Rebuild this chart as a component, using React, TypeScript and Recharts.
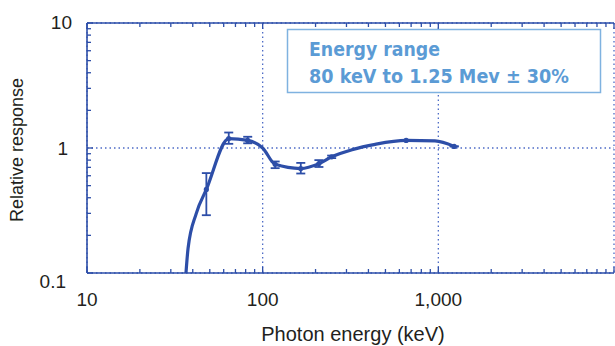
import React from 'react';
import { ComposedChart, Line, Scatter, ErrorBar, XAxis, YAxis, CartesianGrid } from 'recharts';

// smooth response curve
const curveEnergy = [36.6, 37.6, 41.9, 47.8, 64.1, 82.2, 100, 117.8, 164.8, 209, 247, 323, 437, 656, 957, 1231];
const curveResponse = [0.1, 0.157, 0.3, 0.466, 1.19, 1.15, 1.0, 0.74, 0.685, 0.75, 0.85, 0.97, 1.07, 1.15, 1.14, 1.03];

// measured points with error bars
const pointEnergy = [47.8, 64.1, 82.2, 117.8, 164.8, 209, 247, 656, 1231];
const pointResponse = [0.466, 1.19, 1.15, 0.74, 0.685, 0.75, 0.85, 1.15, 1.03];
const errLow = [0.176, 0.11, 0.06, 0.05, 0.06, 0.045, 0.02, 0, 0];
const errHigh = [0.164, 0.14, 0.08, 0.04, 0.075, 0.05, 0.02, 0, 0];

const xMajor = [10, 100, 1000, 10000];
const xMinor = [20, 30, 40, 50, 60, 70, 80, 90, 200, 300, 400, 500, 600, 700, 800, 900, 2000, 3000, 4000, 5000, 6000, 7000, 8000, 9000];
const yMajor = [0.1, 1, 10];
const yMinor = [0.2, 0.3, 0.4, 0.5, 0.6, 0.7, 0.8, 0.9, 2, 3, 4, 5, 6, 7, 8, 9];
const xLabels: Record<number, string> = { 10: '10', 100: '100', 1000: '1,000' };
const yLabels: Record<number, string> = { 0.1: '0.1', 1: '1', 10: '10' };

const curveData = curveEnergy.map((x, i) => ({ x, y: curveResponse[i] }));
const pointData = pointEnergy.map((x, i) => ({ x, y: pointResponse[i], err: [errLow[i], errHigh[i]] }));

const BLUE = '#2d4ea8';
const GRID = '#4d6bc6';
const TEXT = '#231f20';
const FONT = '"Liberation Sans", Arial, sans-serif';

const xTicks = [...xMajor, ...xMinor].sort((a, b) => a - b);
const yTicks = [...yMajor, ...yMinor].sort((a, b) => a - b);

const BottomTick = (props: any) => {
    const { x, y, payload } = props;
    const major = xMajor.includes(payload.value);
    const label = xLabels[payload.value];
    return (
        <g>
            <line x1={x} y1={y} x2={x} y2={y - (major ? 6 : 4)} stroke={BLUE} strokeWidth={1.3} />
            {label && (
                <text x={x} y={y + 33} textAnchor="middle" fontSize={19} fontFamily={FONT} fill={TEXT}>{label}</text>
            )}
        </g>
    );
};

const TopTick = (props: any) => {
    const { x, y, payload } = props;
    const major = xMajor.includes(payload.value);
    return <line x1={x} y1={y} x2={x} y2={y + (major ? 6 : 4)} stroke={BLUE} strokeWidth={1.3} />;
};

const yLabelPos: Record<number, [number, number]> = { 10: [72, 5.5], 1: [68, 7], 0.1: [66, 15] };

const LeftTick = (props: any) => {
    const { x, y, payload } = props;
    const major = yMajor.includes(payload.value);
    const label = yLabels[payload.value];
    const pos = yLabelPos[payload.value];
    return (
        <g>
            <line x1={x} y1={y} x2={x + (major ? 6 : 4)} y2={y} stroke={BLUE} strokeWidth={1.3} />
            {label && (
                <text x={pos[0]} y={y + pos[1]} textAnchor="end" fontSize={19} fontFamily={FONT} fill={TEXT}>{label}</text>
            )}
        </g>
    );
};

const RightTick = (props: any) => {
    const { x, y, payload } = props;
    const major = yMajor.includes(payload.value);
    return <line x1={x} y1={y} x2={x - (major ? 6 : 4)} y2={y} stroke={BLUE} strokeWidth={1.3} />;
};

const Dot = (props: any) => {
    const { cx, cy } = props;
    return <circle cx={cx} cy={cy} r={2.6} fill={BLUE} />;
};

export default function App() {
    return (
        <div style={{ position: 'absolute', left: 0, top: 0, width: 615, height: 346, overflow: 'hidden', background: '#fff' }}>
            <ComposedChart width={620} height={346} margin={{ top: 22, right: 6, bottom: 0, left: 0 }}>
                <CartesianGrid stroke={GRID} strokeDasharray="1.5 3" strokeWidth={1.3}
                    horizontalValues={yMajor} verticalValues={xMajor} />
                <XAxis dataKey="x" type="number" scale="log" domain={[10, 10000]} allowDataOverflow
                    ticks={xTicks} interval={0} tickSize={0} tickMargin={0} tickLine={false}
                    tick={BottomTick} height={73} axisLine={{ stroke: BLUE, strokeWidth: 1.6 }} />
                <XAxis xAxisId="top" orientation="top" dataKey="x" type="number" scale="log" domain={[10, 10000]} allowDataOverflow
                    ticks={xTicks} interval={0} tickSize={0} tickMargin={0} tickLine={false}
                    tick={TopTick} height={1} axisLine={{ stroke: BLUE, strokeWidth: 1.6 }} />
                <YAxis dataKey="y" type="number" scale="log" domain={[0.1, 10]} allowDataOverflow
                    ticks={yTicks} interval={0} tickSize={0} tickMargin={0} tickLine={false}
                    tick={LeftTick} width={87} axisLine={{ stroke: BLUE, strokeWidth: 1.6 }} />
                <YAxis yAxisId="right" orientation="right" dataKey="y" type="number" scale="log" domain={[0.1, 10]} allowDataOverflow
                    ticks={yTicks} interval={0} tickSize={0} tickMargin={0} tickLine={false}
                    tick={RightTick} width={0} axisLine={false} />
                <Line data={curveData} dataKey="y" type="monotone" stroke={BLUE} strokeWidth={3.2}
                    dot={false} activeDot={false} isAnimationActive={false} />
                <Scatter data={pointData} dataKey="y" fill={BLUE} shape={Dot} isAnimationActive={false}>
                    <ErrorBar dataKey="err" direction="y" width={4.5} stroke={BLUE} strokeWidth={1.8} isAnimationActive={false} />
                </Scatter>
            </ComposedChart>
            <svg width={615} height={346} style={{ position: 'absolute', left: 0, top: 0, pointerEvents: 'none' }}>
                <rect x={287.5} y={29.5} width={313} height={63} fill="#fff" stroke="#7fb2e0" strokeWidth={1.5} />
                <text x={309} y={56} fontSize={19} fontWeight="bold" fontFamily='"DejaVu Sans", Verdana, sans-serif'
                    fill="#5b9bd5" textLength={131} lengthAdjust="spacingAndGlyphs">Energy range</text>
                <text x={309} y={82.5} fontSize={19} fontWeight="bold" fontFamily='"DejaVu Sans", Verdana, sans-serif'
                    fill="#5b9bd5" textLength={260} lengthAdjust="spacingAndGlyphs">80 keV to 1.25 Mev ± 30%</text>
                <text x={353} y={341} textAnchor="middle" fontSize={20} fontFamily={FONT} fill={TEXT}>Photon energy (keV)</text>
                <text x={23} y={150} textAnchor="middle" fontSize={18} fontFamily={FONT} fill={TEXT}
                    transform="rotate(-90, 23, 150)">Relative response</text>
            </svg>
        </div>
    );
}
